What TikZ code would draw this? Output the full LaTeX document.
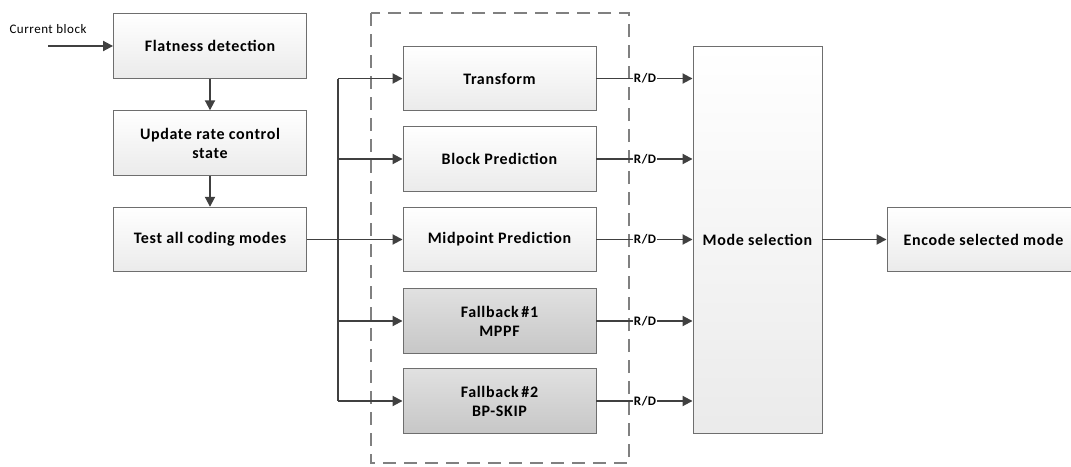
\documentclass[tikz,border=0pt]{standalone}
\usepackage{fontspec}
\setmainfont{Carlito}
\newfontfamily\lblfont[LetterSpace=4]{Carlito}
\usetikzlibrary{arrows.meta}
\definecolor{edgegray}{HTML}{6E6E6E}
\definecolor{linegray}{HTML}{404040}
\definecolor{dashgray}{HTML}{808080}
\tikzset{
  x=1pt,y=-1pt,
  blk/.style={draw=edgegray,line width=0.9pt,top color=white,bottom color=black!8,
    minimum width=193pt,minimum height=64.5pt,inner sep=2pt,align=center,
    font=\lblfont\fontsize{16}{19}\selectfont\bfseries},
  fbk/.style={blk,top color=black!12,bottom color=black!22},
  arr/.style={draw=linegray,line width=1.9pt,-{Triangle[length=10pt,width=10pt]}},
  ln/.style={draw=linegray,line width=1.9pt},
  rd/.style={font=\lblfont\fontsize{13}{15}\selectfont\bfseries,inner sep=1pt,text=black},
}
\begin{document}
\begin{tikzpicture}
\useasboundingbox (0,0) rectangle (1071,466);
% dashed group
\draw[dashgray,line width=1.7pt,dash pattern=on 13pt off 8pt] (371,13) rectangle (629,463);
% left column
\node[blk] (flat) at (210,46) {Flatness detection};
\node[blk] (upd) at (210,143) {Update rate control\\state};
\node[blk] (test) at (210,239.5) {Test all coding modes};
\node[font=\lblfont\fontsize{13}{15}\selectfont,inner sep=0pt] (cur) at (48,29) {Current block};
\coordinate (cin) at (48,46);
\draw[arr] (cin) -- (flat);
\draw[arr] (flat) -- (upd);
\draw[arr] (upd) -- (test);
% middle column
\node[blk] (tr) at (499.5,78.5) {Transform};
\node[blk] (bp) at (499.5,159) {Block Prediction};
\node[blk] (mp) at (499.5,239.5) {Midpoint Prediction};
\node[fbk] (f1) at (499.5,321) {Fallback\,\#1\\MPPF};
\node[fbk] (f2) at (499.5,401) {Fallback\,\#2\\BP-SKIP};
% trunk
\coordinate (ttop) at (338,78.5);
\coordinate (tbot) at (338,401);
\draw[ln] (ttop) -- (tbot);
\draw[arr] (ttop) -- (tr.west);
\draw[arr] (338,159) -- (bp.west);
\draw[arr] (test.east) -- (mp.west);
\draw[arr] (338,321) -- (f1.west);
\draw[arr] (tbot) -- (f2.west);
% mode selection
\node[blk,minimum width=129pt,minimum height=387pt] (ms) at (757.5,239.5) {Mode selection};
\node[blk] (enc) at (983.5,239.5) {Encode selected mode};
\foreach \s/\y in {tr/78.5,bp/159,mp/239.5,f1/321,f2/401}{
  \node[rd] (rd\s) at (645,\y) {R/D};
  \draw[ln] (\s.east) -- (rd\s.west);
  \draw[arr] (rd\s.east) -- (ms.west |- rd\s.east);
}
\draw[arr] (ms) -- (enc);
\end{tikzpicture}
\end{document}
